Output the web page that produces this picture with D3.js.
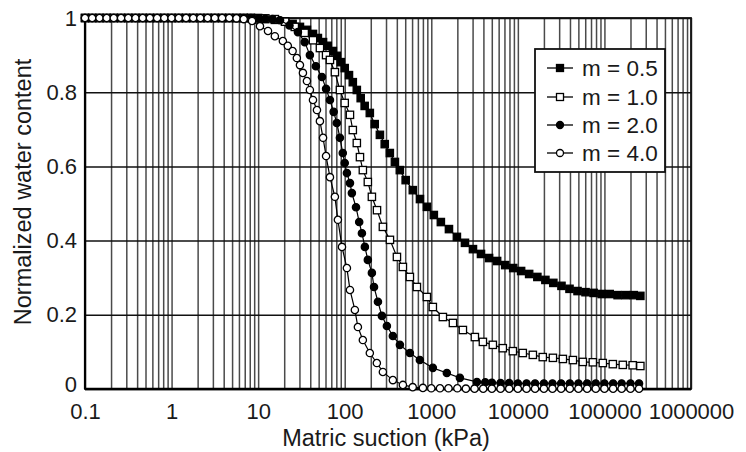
<!DOCTYPE html>
<html>
<head>
<meta charset="utf-8">
<script src="https://cdn.jsdelivr.net/npm/d3@7"></script>
<style>
  html, body { margin: 0; padding: 0; background: #fff; }
  svg { display: block; }
  text { font-family: "Liberation Sans", Arial, sans-serif; fill: #1a1a1a; }
</style>
</head>
<body>
<svg id="chart" width="746" height="452"></svg>
<script>
// ---------------- DATA ----------------
const seriesNames = ["m = 0.5", "m = 1.0", "m = 2.0", "m = 4.0"];

const xTickValues = [0.1, 1, 10, 100, 1000, 10000, 100000, 1000000];
const xTickLabels = ["0.1", "1", "10", "100", "1000", "10000", "100000", "1000000"];
const yTickValues = [0, 0.2, 0.4, 0.6, 0.8, 1];
const yTickLabels = ["0", "0.2", "0.4", "0.6", "0.8", "1"];
const gridMultipliers = [1, 2, 3, 4, 5, 6, 7, 8, 9];

// [matric suction (kPa), normalized water content]
const m05 = [[0.1,1],[0.121,1],[0.147,1],[0.178,1],[0.215,1],[0.261,1],[0.316,1],[0.383,1],[0.464,1],[0.562,1],[0.681,1],[0.825,1],[1,1],[1.21,1],[1.47,1],[1.78,1],[2.15,1],[2.61,1],[3.16,1],[3.83,1],[4.64,1],[5.62,1],[6.81,1],[8.25,1],[10,0.999],
  [12.1,0.997],[15.6,0.995],[20.5,0.99],[25,0.984],[30.4,0.976],[36.6,0.968],[43,0.957],[49,0.946],[56.2,0.935],[63.7,0.925],[73,0.911],[81,0.898],[90,0.881],[100,0.865],[112,0.846],[124,0.827],[138,0.806],[153,0.784],[170,0.763],[195,0.744],[222,0.714],[255,0.685],[290,0.66],[332,0.636],[380,0.612],[433,0.59],[506,0.563],[612,0.536],[740,0.512],[890,0.491],[1070,0.469],[1290,0.45],[1600,0.431],[1976,0.41],[2450,0.394],[3030,0.377],[3750,0.364],[4650,0.353],[5760,0.345],[7140,0.334],[8840,0.326],[10900,0.318],[13500,0.31],[16800,0.302],[20800,0.294],[25700,0.286],[31900,0.278],[39500,0.27],[48900,0.264],[60500,0.261],[75000,0.259],[93000,0.256],[115000,0.256],[142000,0.253],[176000,0.253],[218000,0.253],[260000,0.251]];

const m10 = [[0.1,1],[0.121,1],[0.147,1],[0.178,1],[0.215,1],[0.261,1],[0.316,1],[0.383,1],[0.464,1],[0.562,1],[0.681,1],[0.825,1],[1,1],[1.21,1],[1.47,1],[1.78,1],[2.15,1],[2.61,1],[3.16,1],[3.83,1],[4.64,1],[5.62,1],[6.81,1],[8.25,1],[10,1],[12.1,0.999],
  [15.6,0.997],[20.5,0.99],[26.5,0.976],[34.5,0.96],[43,0.94],[51.7,0.919],[60.9,0.9],[67.5,0.887],[77,0.854],[88,0.806],[100,0.771],[115,0.739],[124,0.698],[138,0.663],[150,0.625],[162,0.59],[185,0.558],[206,0.518],[236,0.482],[276,0.437],[333,0.402],[401,0.356],[470,0.329],[566,0.302],[682,0.275],[889,0.248],[1042,0.221],[1361,0.194],[1778,0.178],[2318,0.159],[3187,0.14],[3945,0.127],[5140,0.119],[6700,0.11],[8750,0.102],[11400,0.097],[14900,0.092],[19400,0.086],[25400,0.084],[33100,0.081],[43200,0.078],[56300,0.073],[73400,0.072],[95800,0.07],[125000,0.067],[163000,0.065],[212000,0.064],[260000,0.062]];

const m20 = [[0.1,1],[0.121,1],[0.147,1],[0.178,1],[0.215,1],[0.261,1],[0.316,1],[0.383,1],[0.464,1],[0.562,1],[0.681,1],[0.825,1],[1,1],[1.21,1],[1.47,1],[1.78,1],[2.15,1],[2.61,1],[3.16,1],[3.83,1],[4.64,1],[5.62,1],[6.81,1],[8.25,1],[10,0.999],[12.1,0.998],
  [14.7,0.997],[17.9,0.994],[23,0.98],[28.8,0.962],[34.5,0.935],[39.6,0.9],[46.4,0.87],[54.6,0.841],[60.9,0.809],[67.5,0.779],[74.5,0.747],[81,0.717],[88,0.677],[95,0.636],[100,0.609],[106,0.582],[115,0.555],[121,0.528],[135,0.49],[147,0.45],[158,0.42],[171,0.383],[185,0.348],[206,0.313],[218,0.275],[242,0.235],[269,0.197],[307,0.17],[360,0.143],[434,0.119],[566,0.097],[738,0.078],[1042,0.057],[1513,0.043],[2140,0.03],[3365,0.019],[4200,0.018],[5010,0.017],[6310,0.016],[7940,0.016],[10000,0.015],[12600,0.015],[15800,0.015],[20000,0.015],[25100,0.015],[31600,0.015],[39800,0.015],[50100,0.015],[63100,0.015],[79400,0.015],[100000,0.015],[126000,0.015],[158000,0.015],[200000,0.015],[251000,0.015]];

const m40 = [[0.1,1],[0.121,1],[0.147,1],[0.178,1],[0.215,1],[0.261,1],[0.316,1],[0.383,1],[0.464,1],[0.562,1],[0.681,1],[0.825,1],[1,1],[1.21,1],[1.47,1],[1.78,1],[2.15,1],[2.61,1],[3.16,1],[3.83,1],[4.64,1],[5.62,0.999],[6.81,0.997],
  [8.5,0.992],[10.5,0.978],[13,0.965],[15.6,0.951],[19.3,0.938],[22,0.925],[25,0.911],[28,0.892],[30.4,0.873],[32.9,0.852],[36.6,0.83],[39.6,0.806],[43,0.779],[47.8,0.752],[51.7,0.722],[56.2,0.677],[60.9,0.628],[67.5,0.571],[77,0.518],[83.4,0.456],[93,0.383],[106,0.326],[115,0.267],[131,0.213],[142,0.167],[162,0.132],[195,0.097],[235,0.07],[276,0.046],[360,0.024],[470,0.011],[610,0.005],[800,0.003],[1000,0.002],[1260,0.002],[1580,0.002],[2000,0.002],[2510,0.001],[3160,0.001],[3980,0.001],[5010,0.001],[6310,0.001],[7940,0.001],[10000,0.001],[12600,0.001],[15800,0.001],[20000,0.001],[25100,0.001],[31600,0.001],[39800,0.001],[50100,0.001],[63100,0.001],[79400,0.001],[100000,0.001],[126000,0.001],[158000,0.001],[200000,0.001],[251000,0.001]];

const seriesData = [m05, m10, m20, m40];
const seriesMarkers = ["squareFilled", "squareOpen", "circleFilled", "circleOpen"];

// ---------------- CHART ----------------
(function () {
const svg = d3.select("#chart");
const pLeft = 85, pRight = 691, pTop = 18, pBottom = 389;

const x = d3.scaleLog().domain([0.1, 1000000]).range([pLeft, pRight]);
const y = d3.scaleLinear().domain([0, 1]).range([pBottom, pTop]);

// all vertical grid values
const gridX = [];
for (let e = -1; e < 6; e++) gridMultipliers.forEach(m => gridX.push(+(m * Math.pow(10, e)).toPrecision(3)));
gridX.push(1000000);

const fs = 22;

// X axis with vertical gridlines
const xAxis = d3.axisBottom(x)
  .tickValues(gridX)
  .tickSize(-(pBottom - pTop))
  .tickPadding(14)
  .tickFormat(v => {
    const i = xTickValues.findIndex(t => Math.abs(t - v) / t < 1e-6);
    return i >= 0 ? xTickLabels[i] : "";
  });
const gx = svg.append("g").attr("transform", `translate(0,${pBottom})`).call(xAxis);
gx.select(".domain").remove();
gx.selectAll(".tick line").attr("stroke", "#4a4a4a").attr("stroke-width", 1.5);
gx.selectAll(".tick text").attr("font-size", fs).attr("fill", "#1a1a1a")
  .style("font-family", "'Liberation Sans', Arial, sans-serif");
gx.selectAll(".tick text").filter(function () { return this.textContent === ""; }).remove();

// Y axis with horizontal gridlines
const yAxis = d3.axisLeft(y)
  .tickValues(yTickValues)
  .tickSize(-(pRight - pLeft))
  .tickPadding(8)
  .tickFormat((v, i) => yTickLabels[i]);
const gy = svg.append("g").attr("transform", `translate(${pLeft},0)`).call(yAxis);
gy.select(".domain").remove();
gy.selectAll(".tick line").attr("stroke", "#111").attr("stroke-width", 1.5);
gy.selectAll(".tick text").attr("font-size", fs).attr("fill", "#1a1a1a")
  .style("font-family", "'Liberation Sans', Arial, sans-serif");
gy.selectAll(".tick text").filter(d => d === 0).attr("dy", "0.12em");

// frame
svg.append("rect").attr("x", pLeft).attr("y", pTop).attr("width", pRight - pLeft).attr("height", pBottom - pTop)
  .attr("fill", "none").attr("stroke", "#111").attr("stroke-width", 1.8);
svg.append("line").attr("x1", pLeft).attr("x2", pRight).attr("y1", pBottom).attr("y2", pBottom)
  .attr("stroke", "#000").attr("stroke-width", 2.6);
svg.append("line").attr("x1", pLeft).attr("x2", pLeft).attr("y1", pTop).attr("y2", pBottom)
  .attr("stroke", "#000").attr("stroke-width", 2.2);

// marker drawing
function drawMarker(sel, type, size) {
  const s = size;
  if (type.startsWith("square")) {
    sel.append("rect").attr("x", -s / 2).attr("y", -s / 2).attr("width", s).attr("height", s)
      .attr("fill", type === "squareFilled" ? "#000" : "#fff")
      .attr("stroke", "#000").attr("stroke-width", 1.3);
  } else {
    sel.append("circle").attr("r", s / 2)
      .attr("fill", type === "circleFilled" ? "#000" : "#fff")
      .attr("stroke", "#000").attr("stroke-width", 1.3);
  }
}

const line = d3.line().x(d => x(d[0])).y(d => y(d[1]));

seriesData.forEach((data, si) => {
  const g = svg.append("g");
  g.append("path").datum(data).attr("d", line).attr("fill", "none").attr("stroke", "#000").attr("stroke-width", 1.2);
  const pts = g.selectAll("g.pt").data(data).enter().append("g")
    .attr("transform", d => `translate(${x(d[0])},${y(d[1])})`);
  pts.each(function () { drawMarker(d3.select(this), seriesMarkers[si], 7.3); });
});

// legend
const lg = svg.append("g");
lg.append("rect").attr("x", 535).attr("y", 49).attr("width", 130).attr("height", 123)
  .attr("fill", "#fff").attr("stroke", "#111").attr("stroke-width", 1.8);
const legendY = [68, 97, 125, 153];
seriesNames.forEach((name, i) => {
  const row = lg.append("g").attr("transform", `translate(0,${legendY[i]})`);
  row.append("line").attr("x1", 547).attr("x2", 573).attr("y1", 0).attr("y2", 0).attr("stroke", "#000").attr("stroke-width", 1.3);
  const mk = row.append("g").attr("transform", "translate(560,0)");
  drawMarker(mk, seriesMarkers[i], 7);
  row.append("text").attr("x", 582).attr("y", 0).attr("dy", "0.36em").attr("font-size", 22.5).text(name);
});

// axis titles
svg.append("text").attr("x", 386).attr("y", 446).attr("text-anchor", "middle").attr("font-size", 23.5)
  .text("Matric suction (kPa)");
svg.append("text").attr("transform", "translate(31,192) rotate(-90)").attr("text-anchor", "middle").attr("font-size", 23.5)
  .text("Normalized water content");
})();
</script>
</body>
</html>
